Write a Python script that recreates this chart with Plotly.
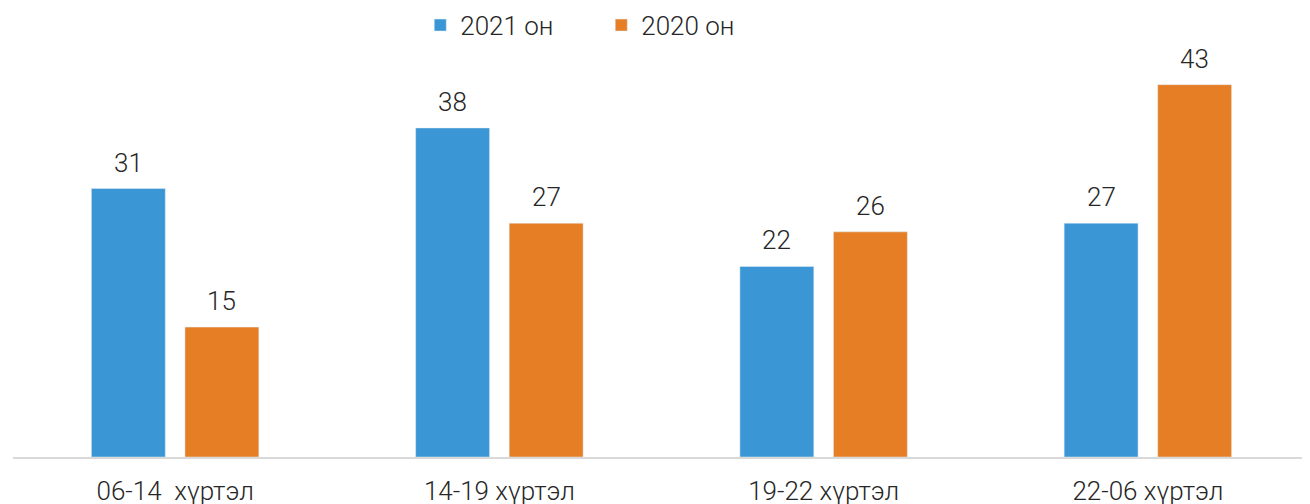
import plotly.graph_objects as go

categories = ["06-14  хүртэл", "14-19 хүртэл", "19-22 хүртэл", "22-06 хүртэл"]
values_2021 = [31, 38, 22, 27]
values_2020 = [15, 27, 26, 43]
series_names = ["2021 он", "2020 он"]
colors = ["#3a96d4", "#e57e25"]

FONT = dict(family="Roboto", size=26, color="#262626", weight=300)
BARGAP = 0.423

fig = go.Figure()
for name, vals, col in zip(series_names, [values_2021, values_2020], colors):
    fig.add_trace(go.Bar(x=categories, y=vals, name=name, marker_color=col))

# value labels placed above each bar (offset within the group from bargap)
slot = (1 - BARGAP) / 2
for k, vals in enumerate([values_2021, values_2020]):
    off = -slot / 2 if k == 0 else slot / 2
    for i, v in enumerate(vals):
        fig.add_annotation(x=i + off, y=v, xref="x", yref="y", text=str(v),
                           showarrow=False, yanchor="bottom", yshift=9, font=FONT)

fig.update_layout(
    width=1310, height=504,
    margin=dict(l=5, r=8, t=42, b=55, autoexpand=False),
    paper_bgcolor="white", plot_bgcolor="white",
    barmode="group", bargap=BARGAP, bargroupgap=0.21,
    font=FONT,
    legend=dict(orientation="h", x=0.314, xanchor="left",
                yref="container", y=0.966, yanchor="middle",
                font=FONT, entrywidth=136, itemwidth=30),
    xaxis=dict(showline=True, linecolor="#d9d9d9", linewidth=2, ticks="",
               tickfont=FONT, ticklabelstandoff=10),
    yaxis=dict(range=[0, 47], visible=False),
)
fig.write_html("out.html")
